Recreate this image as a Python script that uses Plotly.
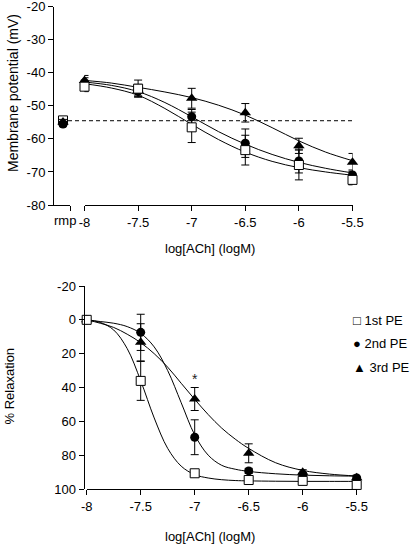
import plotly.graph_objects as go

# ---------------- data ----------------
series_names = ["1st PE", "2nd PE", "3rd PE"]
legend_symbols = ["\u25a1", "\u25cf", "\u25b2"]
x_ticks = [-8, -7.5, -7, -6.5, -6, -5.5]
x_tick_text = ["-8", "-7.5", "-7", "-6.5", "-6", "-5.5"]
top_y_ticks = [-80, -70, -60, -50, -40, -30, -20]
top_y_tick_text = ["-80", "-70", "-60", "-50", "-40", "-30", "-20"]
bot_y_ticks = [-20, 0, 20, 40, 60, 80, 100]
bot_y_tick_text = ["-20", "0", "20", "40", "60", "80", "100"]

# Top panel: membrane potential (mV)
top_x = [-8, -7.5, -7, -6.5, -6, -5.5]
top_pe1 = [-44.2, -44.8, -56.5, -63.4, -67.9, -72.4]
top_pe1_err = [1.5, 2.6, 4.6, 4.5, 4.5, 1.5]
top_pe2 = [-43.0, -45.5, -53.3, -61.3, -66.7, -70.9]
top_pe2_err = [1.5, 1.5, 2.2, 4.3, 3.6, 1.5]
top_pe3 = [-42.3, -45.3, -47.7, -52.1, -62.1, -67.1]
top_pe3_err = [1.5, 1.8, 3.0, 2.8, 2.3, 2.7]
rmp_label = ["rmp"]
rmp_pe1 = [-54.4]
rmp_pe2 = [-55.5]
rmp_pe3 = [-54.9]
rmp_err = [0.8]
rmp_level = -54.5

# fitted curves
top_curve_x = [-8, -7.75, -7.5, -7.25, -7, -6.75, -6.5, -6.25, -6, -5.75, -5.5]
top_curve_pe1 = [-43.3, -44.6, -46.8, -50.8, -55.6, -60.2, -64.0, -66.8, -68.7, -70.0, -71.0]
top_curve_pe2 = [-42.8, -43.8, -45.7, -49.0, -53.3, -57.8, -61.6, -64.7, -67.1, -68.9, -70.3]
top_curve_pe3 = [-42.3, -43.1, -44.4, -45.8, -47.5, -49.8, -52.8, -56.6, -60.6, -64.0, -66.6]

# Bottom panel: % relaxation
bot_x = [-8, -7.5, -7, -6.5, -6, -5.5]
bot_pe1 = [0, 36.1, 90.7, 94.7, 95.2, 97.6]
bot_pe1_err = [0, 11.5, 1.5, 0.8, 0.8, 0.8]
bot_pe2 = [0, 7.4, 69.4, 89.3, 91.5, 93.5]
bot_pe2_err = [0, 10.7, 10.3, 1.5, 1.0, 1.0]
bot_pe3 = [0, 13.3, 46.8, 78.9, 90.1, 93.3]
bot_pe3_err = [0, 11.0, 6.8, 5.6, 1.5, 1.5]
sig_x = [-7]
sig_text = ["*"]

bot_curve_x = [-8, -7.875, -7.75, -7.625, -7.5, -7.375, -7.25, -7.125, -7,
               -6.875, -6.75, -6.625, -6.5, -6.25, -6, -5.75, -5.5]
bot_curve_pe1 = [0, 1.5, 6, 17, 36, 58, 76, 86.5, 91.5, 93.5, 94.5, 95, 95.2, 95.4, 95.5, 95.5, 95.5]
bot_curve_pe2 = [0, 1, 2, 4, 8, 16, 30, 49, 68, 80, 86, 88.3, 89.6, 91, 91.8, 92.2, 92.4]
bot_curve_pe3 = [0, 2, 4.5, 8.5, 13.5, 20, 28, 37.5, 47, 56, 64, 70.5, 76, 84.5, 89, 91.2, 92.3]

# ---------------- styling ----------------
FONT = "Liberation Sans, Arial, sans-serif"
W, H = 412, 545
markers = {
    "1st PE": dict(symbol="square", color="white", size=9, line=dict(color="black", width=1)),
    "2nd PE": dict(symbol="circle", color="black", size=9, line=dict(color="black", width=0)),
    "3rd PE": dict(symbol="triangle-up", color="black", size=10, line=dict(color="black", width=0)),
}


def err(arr):
    return dict(type="data", array=arr, color="black", thickness=1, width=4)


def fx(p):   # screen px -> paper x
    return p / W


def fy(p):   # screen px -> paper y
    return (H - p) / H


fig = go.Figure()

# ---- top curves
for ys in [top_curve_pe3, top_curve_pe2, top_curve_pe1]:
    fig.add_trace(go.Scatter(x=top_curve_x, y=ys, mode="lines", line=dict(color="black", width=1, shape="spline"),
                             xaxis="x", yaxis="y", showlegend=False, hoverinfo="skip"))
# ---- top points (triangle, circle, square order)
for name, ys, es in [("3rd PE", top_pe3, top_pe3_err), ("2nd PE", top_pe2, top_pe2_err),
                     ("1st PE", top_pe1, top_pe1_err)]:
    fig.add_trace(go.Scatter(x=top_x, y=ys, error_y=err(es), mode="markers", marker=markers[name],
                             xaxis="x", yaxis="y", showlegend=False, cliponaxis=False))
# ---- rmp points
for name, ys in [("1st PE", rmp_pe1), ("3rd PE", rmp_pe3), ("2nd PE", rmp_pe2)]:
    fig.add_trace(go.Scatter(x=[0] * len(rmp_label), y=ys, error_y=err(rmp_err), mode="markers",
                             marker=markers[name], xaxis="x3", yaxis="y", showlegend=False, cliponaxis=False))

# ---- bottom curves
for ys in [bot_curve_pe3, bot_curve_pe2, bot_curve_pe1]:
    fig.add_trace(go.Scatter(x=bot_curve_x, y=ys, mode="lines", line=dict(color="black", width=1, shape="spline"),
                             xaxis="x2", yaxis="y2", showlegend=False, hoverinfo="skip"))
# ---- bottom points
for name, ys, es in [("3rd PE", bot_pe3, bot_pe3_err), ("2nd PE", bot_pe2, bot_pe2_err),
                     ("1st PE", bot_pe1, bot_pe1_err)]:
    fig.add_trace(go.Scatter(x=bot_x, y=ys, error_y=err(es), mode="markers", marker=markers[name], name=name,
                             xaxis="x2", yaxis="y2", showlegend=False, cliponaxis=False))

# ---- significance star above 3rd PE at -7
i = bot_x.index(sig_x[0])
fig.add_annotation(x=sig_x[0], y=bot_pe3[i] - bot_pe3_err[i], xref="x2", yref="y2", text=sig_text[0],
                   showarrow=False, xanchor="center", yanchor="bottom", yshift=-2,
                   font=dict(family=FONT, size=14, color="#222"))

# ---- rmp dashed reference line
fig.add_shape(type="line", xref="paper", yref="y", x0=fx(68), x1=fx(352.5), y0=rmp_level, y1=rmp_level,
              line=dict(color="black", width=1, dash="4px,3px"))

axis_common = dict(showline=True, linecolor="black", linewidth=1, ticks="outside", ticklen=5, tickwidth=1,
                   tickcolor="black", showgrid=False, zeroline=False, ticklabeloverflow="allow",
                   tickfont=dict(family=FONT, size=13, color="black"))

fig.update_layout(
    width=W, height=H, margin=dict(l=0, r=0, t=0, b=0, autoexpand=False),
    paper_bgcolor="white", plot_bgcolor="white",
    font=dict(family=FONT, size=13, color="black"),
    showlegend=False,
    xaxis=dict(domain=[fx(84.5), fx(352.5)], range=[-8, -5.5], anchor="y", tickvals=x_ticks,
               ticktext=x_tick_text, **axis_common),
    xaxis3=dict(domain=[fx(54), fx(70)], range=[-0.5625, 0.4375], anchor="y", tickvals=[0.4375], ticktext=[""],
                **axis_common),
    yaxis=dict(domain=[fy(205), fy(6.7)], range=[-80, -20], anchor="x3", tickvals=top_y_ticks,
               ticktext=top_y_tick_text, ticklabelstandoff=0, **axis_common),
    xaxis2=dict(domain=[fx(86.7), fx(356.7)], range=[-8, -5.5], anchor="y2", tickvals=x_ticks,
                ticktext=x_tick_text, **axis_common),
    xaxis4=dict(domain=[fx(53), fx(71.7)], range=[0, 1], anchor="y2", tickvals=[1], ticktext=[""], **axis_common),
    yaxis2=dict(domain=[fy(489), fy(286)], range=[100, -20], anchor="x4", tickvals=bot_y_ticks,
                ticktext=bot_y_tick_text, ticklabelstandoff=0, **axis_common),
)

# legend (text glyph symbols + names)
for k, (sym, nm) in enumerate(zip(legend_symbols, series_names)):
    fig.add_annotation(x=fx(351), y=fy(320 + 23.5 * k), xref="paper", yref="paper",
                       text=sym + " " + nm, showarrow=False, xanchor="left", yanchor="middle",
                       font=dict(family=FONT, size=13, color="black"))

# axis titles and rmp label
fig.add_annotation(x=fx(64.7), y=fy(221), xref="paper", yref="paper", text=rmp_label[0], showarrow=False,
                   font=dict(family=FONT, size=13), xanchor="center", yanchor="middle")
fig.add_annotation(x=fx(210), y=fy(248), xref="paper", yref="paper", text="log[ACh] (logM)",
                   showarrow=False, font=dict(family=FONT, size=13), xanchor="center", yanchor="middle")
fig.add_annotation(x=fx(210), y=fy(536.5), xref="paper", yref="paper", text="log[ACh] (logM)",
                   showarrow=False, font=dict(family=FONT, size=13), xanchor="center", yanchor="middle")
fig.add_annotation(x=fx(12.5), y=fy(93.5), xref="paper", yref="paper", text="Membrane potential (mV)",
                   textangle=-90, showarrow=False, font=dict(family=FONT, size=14), xanchor="center",
                   yanchor="middle")
fig.add_annotation(x=fx(9.5), y=fy(386), xref="paper", yref="paper", text="% Relaxation",
                   textangle=-90, showarrow=False, font=dict(family=FONT, size=13), xanchor="center",
                   yanchor="middle")

fig.write_html("out.html", config={"displayModeBar": False},
               post_script="document.body.style.margin='0px';")
